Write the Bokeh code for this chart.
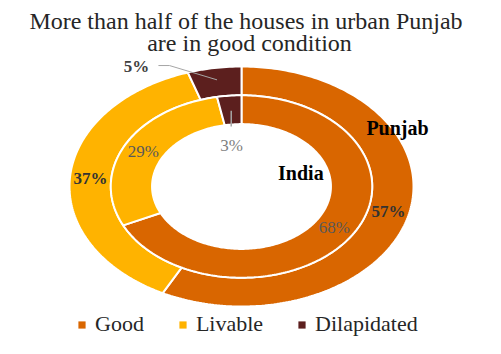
import numpy as np
from bokeh.plotting import figure
from bokeh.models import ColumnDataSource, Label, Legend, LegendItem, Range1d
from bokeh.embed import file_html
from bokeh.resources import INLINE
from bokeh.core.properties import value

# ---------------- data ----------------
categories = ["Good", "Livable", "Dilapidated"]
punjab = [57, 37, 5]   # outer ring (%)
india = [68, 29, 3]    # inner ring (%)
colors = ["#D96600", "#FFB300", "#5C1F1E"]
title_lines = ["More than half of the houses in urban Punjab", "are in good condition"]
ring_names = ["Punjab", "India"]

# ---------------- layout ----------------
W, H = 485, 338
CX, CY = 241, 186      # centre of the doughnut in figure pixels (from top-left)
RX, RY = 172, 120      # pixels per data unit (image is horizontally stretched)
FONT = "Liberation Serif"

p = figure(width=W, height=H, output_backend="svg", toolbar_location=None,
           x_range=Range1d(-CX / RX, (W - CX) / RX),
           y_range=Range1d(-(H - CY) / RY, CY / RY),
           x_axis_type=None, y_axis_type=None,
           min_border=0)
p.grid.visible = False
p.outline_line_color = None


def ring(values, r0, r1):
    vals = np.asarray(values, dtype=float)
    frac = np.cumsum(np.r_[0.0, vals]) / vals.sum()
    xs, ys = [], []
    for a, b in zip(frac[:-1], frac[1:]):
        t = np.linspace(a, b, max(int((b - a) * 360), 2) + 1) * 2 * np.pi
        xo, yo = r1 * np.sin(t), r1 * np.cos(t)
        xi, yi = r0 * np.sin(t[::-1]), r0 * np.cos(t[::-1])
        xs.append(list(np.r_[xo, xi]))
        ys.append(list(np.r_[yo, yi]))
    mids = (frac[:-1] + frac[1:]) / 2 * 2 * np.pi
    return xs, ys, mids


R_HOLE, R_MID, R_OUT = 0.52, 0.76, 1.0

xs_o, ys_o, mid_o = ring(punjab, R_MID, R_OUT)
xs_i, ys_i, mid_i = ring(india, R_HOLE, R_MID)

p.patches(xs="xs", ys="ys", fill_color="color", line_color="white", line_width=2,
          source=ColumnDataSource(dict(xs=xs_o, ys=ys_o, color=colors)))
p.patches(xs="xs", ys="ys", fill_color="color", line_color="white", line_width=2,
          source=ColumnDataSource(dict(xs=xs_i, ys=ys_i, color=colors)))

# ---- value labels (Good & Livable inside the ring) ----
lab_r_o, lab_r_i = 0.88, 0.64
p.text(x=[lab_r_o * np.sin(m) for m in mid_o[:2]], y=[lab_r_o * np.cos(m) for m in mid_o[:2]],
       text=[f"{v}%" for v in punjab[:2]], text_align="center", text_baseline="middle",
       text_font=value(FONT), text_font_size="17px", text_font_style="bold", text_color="#333333")
p.text(x=[lab_r_i * np.sin(m) for m in mid_i[:2]], y=[lab_r_i * np.cos(m) for m in mid_i[:2]],
       text=[f"{v}%" for v in india[:2]], text_align="center", text_baseline="middle",
       text_font=value(FONT), text_font_size="17px", text_color="#595959")

# ---- callouts for Dilapidated ----
m5 = mid_o[2]
p.line(x=[-0.483, -0.419, 0.9 * np.sin(m5)], y=[1.008, 1.008, 0.9 * np.cos(m5)],
       line_color="#A6A6A6", line_width=1)
p.text(x=[-0.61], y=[1.0], text=[f"{punjab[2]}%"], text_align="center", text_baseline="middle",
       text_font=value(FONT), text_font_size="17px", text_font_style="bold", text_color="#404040")
m3 = mid_i[2]
p.line(x=[0.635 * np.sin(m3), 0.635 * np.sin(m3)], y=[0.635 * np.cos(m3), 0.50],
       line_color="#A6A6A6", line_width=1.5)
p.text(x=[-0.058], y=[0.342], text=[f"{india[2]}%"], text_align="center", text_baseline="middle",
       text_font=value(FONT), text_font_size="17px", text_color="#7F7F7F")

# ---- ring names ----
p.add_layout(Label(x=0.907, y=0.4875, text=ring_names[0], text_align="center",
                   text_baseline="alphabetic", text_font=FONT, text_font_size="20px",
                   text_font_style="bold", text_color="black"))
p.add_layout(Label(x=0.345, y=0.1125, text=ring_names[1], text_align="center",
                   text_baseline="alphabetic", text_font=FONT, text_font_size="20px",
                   text_font_style="bold", text_color="black"))

# ---- title ----
for txt, sx, sy in zip(title_lines, [245.5, 249], [318, 296]):
    p.add_layout(Label(x=sx, y=sy, x_units="screen", y_units="screen", text=txt,
                       text_align="center", text_baseline="alphabetic", text_font=FONT,
                       text_font_size="24px", text_color="#262626"))

# ---- legend ----
nan = [np.nan] * len(categories)
leg = p.quad(left="l", right="r", top="t", bottom="b", fill_color="color", line_color=None,
             source=ColumnDataSource(dict(l=nan, r=nan, t=nan, b=nan, color=colors)))
items = [LegendItem(label=c, renderers=[leg], index=i) for i, c in enumerate(categories)]
legend = Legend(items=items, orientation="horizontal", location=(77, 1),
                glyph_width=9, glyph_height=9, label_standoff=9, spacing=34,
                label_text_font=FONT, label_text_font_size="22px", label_text_color="#262626",
                padding=0, margin=0, border_line_color=None, background_fill_alpha=0)
p.add_layout(legend)

open("out.html", "w").write(file_html(p, INLINE))
